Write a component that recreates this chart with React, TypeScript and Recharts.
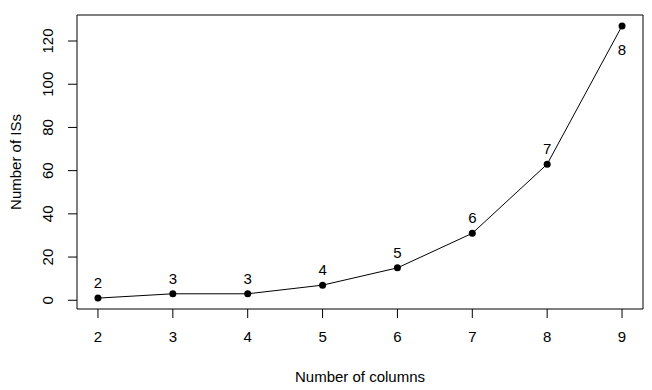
import { LineChart, Line, XAxis, YAxis, LabelList, ReferenceArea } from 'recharts'

const columns = [2, 3, 4, 5, 6, 7, 8, 9]
const isCounts = [1, 3, 3, 7, 15, 31, 63, 127]
const pointLabels = ['2', '3', '3', '4', '5', '6', '7', '8']
const xTicks = [2, 3, 4, 5, 6, 7, 8, 9]
const yTicks = [0, 20, 40, 60, 80, 100, 120]

// R pads each axis by 4% of the data range
const X_DOMAIN: [number, number] = [1.72, 9.28]
const Y_DOMAIN: [number, number] = [-4.04, 132.04]

const FONT = '"Liberation Sans", Arial, sans-serif'
const FS = 15

const data = columns.map((c, i) => ({ cols: c, count: isCounts[i], label: pointLabels[i] }))

const XTick = (props: any) => {
  const { x, y, payload } = props
  return (
    <text x={x} y={y + 24} textAnchor="middle" fontSize={FS} fontFamily={FONT} fill="#000">
      {payload.value}
    </text>
  )
}

const YTick = (props: any) => {
  const { x, y, payload } = props
  return (
    <text
      transform={`translate(${x - 15},${y}) rotate(-90)`}
      textAnchor="middle"
      fontSize={FS}
      fontFamily={FONT}
      fill="#000"
    >
      {payload.value}
    </text>
  )
}

const renderPointLabel = (props: any) => {
  const { x, y, value, index } = props
  const below = index === data.length - 1
  return (
    <text
      x={x}
      y={below ? y + 29 : y - 10}
      textAnchor="middle"
      fontSize={FS}
      fontFamily={FONT}
      fill="#000"
    >
      {value}
    </text>
  )
}

export default function App() {
  return (
    <div style={{ position: 'absolute', left: 0, top: 0, background: '#fff' }}>
      <LineChart width={652} height={390} data={data} margin={{ top: 15, right: 9, left: 0, bottom: 0 }}>
        <XAxis
          dataKey="cols"
          type="number"
          domain={X_DOMAIN}
          ticks={xTicks}
          allowDataOverflow
          height={81}
          axisLine={false}
          tickSize={9}
          tickMargin={0}
          tickLine={{ stroke: '#000' }}
          tick={<XTick />}
          interval={0}
          label={{
            content: (p: any) => {
              const vb = p.viewBox
              return (
                <text x={vb.x + vb.width / 2} y={vb.y + 73} textAnchor="middle" fontSize={FS} fontFamily={FONT} fill="#000">
                  Number of columns
                </text>
              )
            },
          }}
        />
        <YAxis
          type="number"
          domain={Y_DOMAIN}
          ticks={yTicks}
          allowDataOverflow
          width={77}
          axisLine={false}
          tickSize={9}
          tickMargin={0}
          tickLine={{ stroke: '#000' }}
          tick={<YTick />}
          interval={0}
          label={{
            content: (p: any) => {
              const vb = p.viewBox
              return (
                <text
                  transform={`translate(21,${vb.y + vb.height / 2}) rotate(-90)`}
                  textAnchor="middle"
                  fontSize={FS}
                  fontFamily={FONT}
                  fill="#000"
                >
                  Number of ISs
                </text>
              )
            },
          }}
        />
        <ReferenceArea
          x1={X_DOMAIN[0]}
          x2={X_DOMAIN[1]}
          y1={Y_DOMAIN[0]}
          y2={Y_DOMAIN[1]}
          fill="none"
          stroke="#000"
          strokeWidth={1}
          ifOverflow="visible"
        />
        <Line
          dataKey="count"
          stroke="#000"
          strokeWidth={1}
          type="linear"
          dot={{ r: 3.5, fill: '#000', stroke: '#000', strokeWidth: 0 }}
          activeDot={false}
          isAnimationActive={false}
        >
          <LabelList dataKey="label" content={renderPointLabel} />
        </Line>
      </LineChart>
    </div>
  )
}
